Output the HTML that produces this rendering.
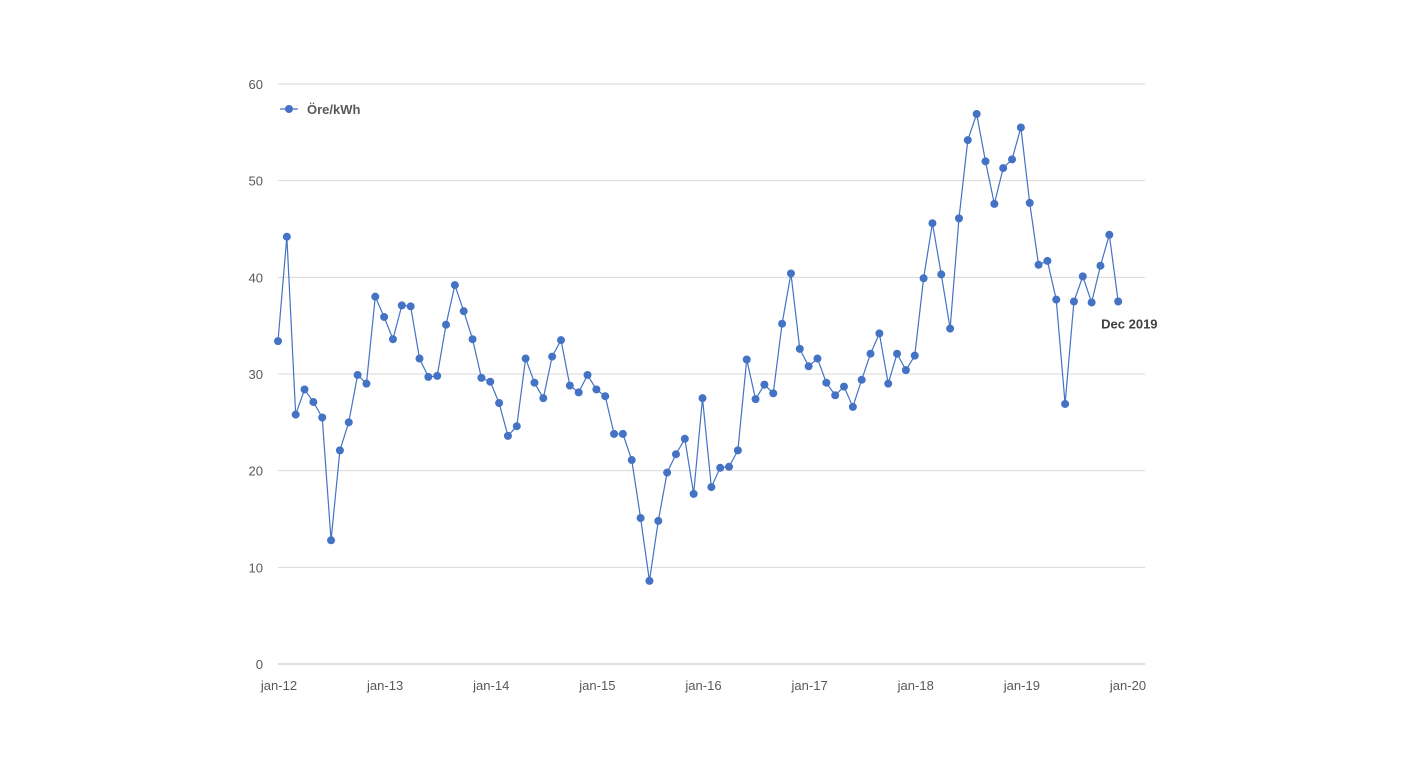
<!DOCTYPE html>
<html><head><meta charset="utf-8"><style>
html,body{margin:0;padding:0;background:#fff;}
svg{display:block;font-family:"Liberation Sans",Calibri,sans-serif;}
</style></head><body>
<svg width="1416" height="760" id="chart"></svg>
<script>
const yTicks=[0,10,20,30,40,50,60];
const xTickLabels=["jan-12","jan-13","jan-14","jan-15","jan-16","jan-17","jan-18","jan-19","jan-20"];
const seriesName="Öre/kWh";
const values=[
33.4,44.2,25.8,28.4,27.1,25.5,12.8,22.1,25.0,29.9,29.0,38.0,
35.9,33.6,37.1,37.0,31.6,29.7,29.8,35.1,39.2,36.5,33.6,29.6,
29.2,27.0,23.6,24.6,31.6,29.1,27.5,31.8,33.5,28.8,28.1,29.9,
28.4,27.7,23.8,23.8,21.1,15.1,8.6,14.8,19.8,21.7,23.3,17.6,
27.5,18.3,20.3,20.4,22.1,31.5,27.4,28.9,28.0,35.2,40.4,32.6,
30.8,31.6,29.1,27.8,28.7,26.6,29.4,32.1,34.2,29.0,32.1,30.4,
31.9,39.9,45.6,40.3,34.7,46.1,54.2,56.9,52.0,47.6,51.3,52.2,
55.5,47.7,41.3,41.7,37.7,26.9,37.5,40.1,37.4,41.2,44.4,37.5];
const lastLabel="Dec 2019";
const NS="http://www.w3.org/2000/svg";
const svg=document.getElementById('chart');
const X0=278,PXM=(1127-278)/96,Y0=664,PXU=(664-84)/60,XR=1145;
const xs=i=>X0+i*PXM, ys=v=>Y0-v*PXU;
function mk(t,a,p){const e=document.createElementNS(NS,t);for(const k in a)e.setAttribute(k,a[k]);(p||svg).appendChild(e);return e;}
yTicks.forEach(t=>{
 const l=mk('line',{x1:X0,x2:XR,y1:ys(t),y2:ys(t),stroke:t===0?'#bfbfbf':'#d9d9d9','stroke-width':1});
 
 
 const tx=mk('text',{x:263,y:ys(t)+5,'text-anchor':'end','font-size':13,fill:'#595959'});
 tx.textContent=t;
 
 
});
xTickLabels.forEach((s,i)=>{
 const tx=mk('text',{x:xs(i*12)+1,y:690,'text-anchor':'middle','font-size':13,fill:'#595959'});
 tx.textContent=s;
 
 
});
const pl=mk('polyline',{points:values.map((v,i)=>xs(i)+','+ys(v)).join(' '),fill:'none',stroke:'#4472c4','stroke-width':1.2});


values.forEach((v,i)=>{
 const c=mk('circle',{cx:xs(i),cy:ys(v),r:4,fill:'#4472c4'});
 
 
});
const dl=mk('text',{x:xs(values.length-1)-17,y:ys(values[values.length-1])+27,'font-size':13,'font-weight':'bold',fill:'#404040'});
dl.textContent=lastLabel;


const lg=mk('g',{});


mk('line',{x1:280,x2:298,y1:109,y2:109,stroke:'#4472c4','stroke-width':1.2},lg);
mk('circle',{cx:289,cy:109,r:4,fill:'#4472c4'},lg);
const lt=mk('text',{x:307,y:114,'font-size':13,'font-weight':'bold',fill:'#595959'},lg);
lt.textContent=seriesName;
</script>
</body></html>
